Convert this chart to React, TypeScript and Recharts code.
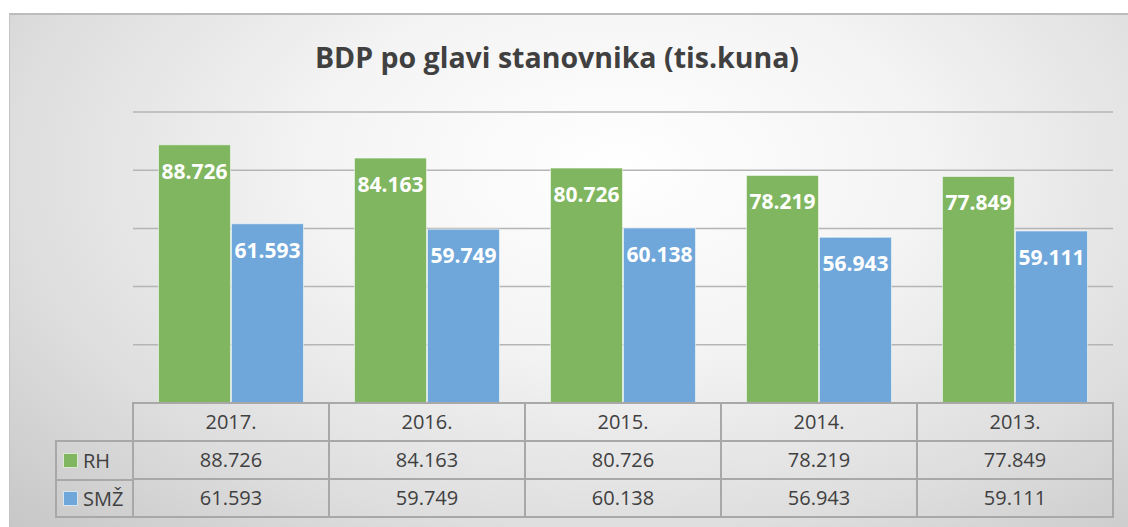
import { Bar, BarChart, CartesianGrid, LabelList, XAxis, YAxis } from 'recharts'

const categories = ['2017.', '2016.', '2015.', '2014.', '2013.']
const rhValues = [88.726, 84.163, 80.726, 78.219, 77.849]
const smzValues = [61.593, 59.749, 60.138, 56.943, 59.111]
const yTicks = [0, 20, 40, 60, 80, 100]
const seriesNames = ['RH', 'SMŽ']

const data = categories.map((year, i) => ({ year, rh: rhValues[i], smz: smzValues[i] }))

const W = 1128
const H = 527
const TABLE_H = 124
const margin = { top: 112, right: 15, bottom: 0, left: 133 }
const colW = (W - margin.left - margin.right) / categories.length
const rowH = 38
const FONT = '"Open Sans", "Liberation Sans", sans-serif'
const GREEN = '#80b660'
const BLUE = '#6fa7da'
const COLORS = [GREEN, BLUE]
const BORDER = '#a8a8a8'
const TEXT = '#404040'

const fmt = (v: number) => v.toFixed(3)

function TableColumn(props: any) {
  const { x, y, payload } = props
  const i = payload.index
  const left = x - colW / 2
  const cells = [payload.value, fmt(rhValues[i]), fmt(smzValues[i])]
  return (
    <g>
      {cells.map((c, r) => (
        <g key={r}>
          <rect x={left} y={y + r * rowH} width={colW} height={rowH} fill="none" stroke={BORDER} strokeWidth={2} />
          <text
            x={x}
            y={y + r * rowH + rowH / 2 + 7}
            textAnchor="middle"
            fontFamily={FONT}
            fontSize={20}
            fill={TEXT}
          >
            {c}
          </text>
        </g>
      ))}
    </g>
  )
}

function LegendColumn() {
  return (
    <div
      style={{
        position: 'absolute',
        left: 55,
        top: H - TABLE_H + rowH - 1,
        width: 79,
        border: `2px solid ${BORDER}`,
        borderRight: 'none',
        boxSizing: 'border-box',
      }}
    >
      {seriesNames.map((name, k) => (
        <div
          key={name}
          style={{
            height: k === 0 ? rowH - 1 : rowH - 3,
            borderTop: k === 0 ? 'none' : `2px solid ${BORDER}`,
            display: 'flex',
            alignItems: 'center',
            paddingLeft: 6,
            fontFamily: FONT,
            fontSize: 20,
            color: TEXT,
          }}
        >
          <span
            style={{
              width: 13,
              height: 13,
              background: COLORS[k],
              border: '1px solid rgba(255,255,255,0.7)',
              marginRight: 5,
              display: 'inline-block',
            }}
          />
          {name}
        </div>
      ))}
    </div>
  )
}

export default function App() {
  return (
    <div style={{ position: 'absolute', left: 0, top: 0, width: W, height: H, background: '#fff', overflow: 'hidden' }}>
      <div
        style={{
          position: 'absolute',
          left: 9,
          top: 13,
          width: W + 20,
          height: H + 20,
          borderTop: '2px solid #bcbcbc',
          borderLeft: '1px solid #c4c4c4',
          background: 'radial-gradient(ellipse 75% 95% at 53% 28%, #ffffff 0%, #f4f4f4 35%, #dedede 70%, #c6c6c6 100%)',
        }}
      />
      <div
        style={{
          position: 'absolute',
          left: 0,
          top: 37,
          width: 1114,
          textAlign: 'center',
          fontFamily: FONT,
          fontWeight: 700,
          fontSize: 28.5,
          color: TEXT,
          lineHeight: '40px',
        }}
      >
        BDP po glavi stanovnika (tis.kuna)
      </div>
      <div style={{ position: 'absolute', left: 0, top: 0 }}>
        <BarChart width={W} height={H} data={data} margin={margin} barCategoryGap="13%" barGap={1}>
          <CartesianGrid vertical={false} stroke="#b5b5b5" strokeWidth={1.5} />
          <YAxis hide domain={[0, 100]} ticks={yTicks} />
          <XAxis
            dataKey="year"
            height={TABLE_H}
            axisLine={false}
            tickLine={false}
            tickSize={0}
            tickMargin={0}
            interval={0}
            tick={<TableColumn />}
          />
          <Bar dataKey="rh" name={seriesNames[0]} fill={GREEN} stroke="rgba(255,255,255,0.55)" strokeWidth={1} isAnimationActive={false}>
            <LabelList dataKey="rh" position="insideTop" offset={19} formatter={(v: any) => fmt(Number(v))} fill="#fff" fontFamily={FONT} fontWeight={700} fontSize={21} />
          </Bar>
          <Bar dataKey="smz" name={seriesNames[1]} fill={BLUE} stroke="rgba(255,255,255,0.55)" strokeWidth={1} isAnimationActive={false}>
            <LabelList dataKey="smz" position="insideTop" offset={19} formatter={(v: any) => fmt(Number(v))} fill="#fff" fontFamily={FONT} fontWeight={700} fontSize={21} />
          </Bar>
        </BarChart>
      </div>
      <LegendColumn />
    </div>
  )
}
